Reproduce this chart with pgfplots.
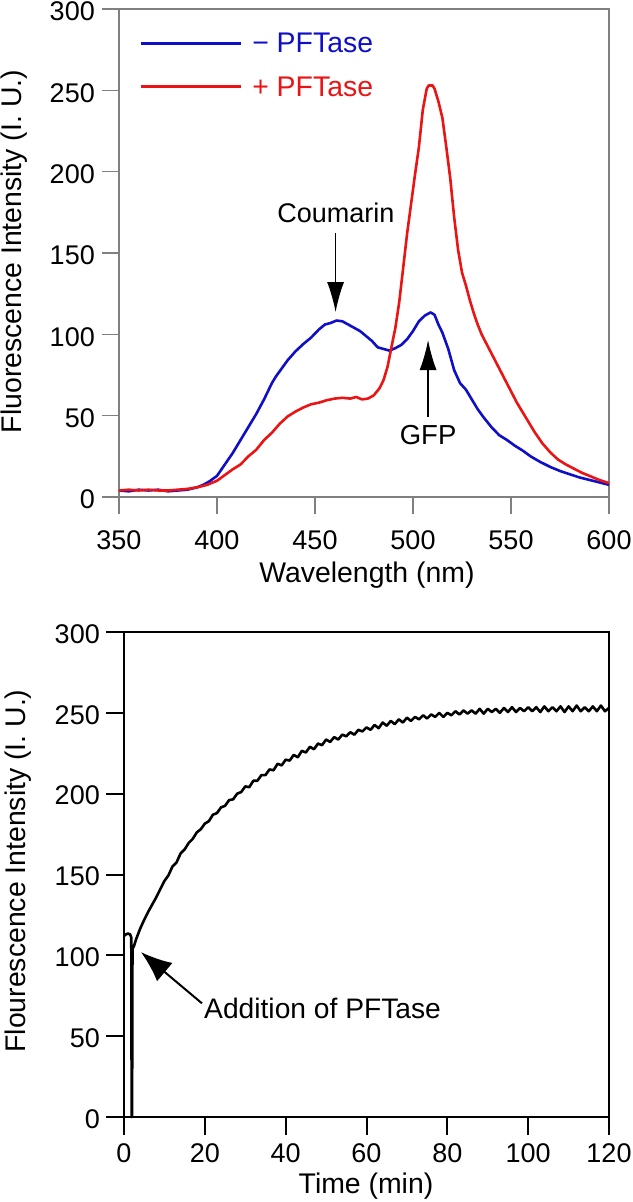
\documentclass[border=0pt]{standalone}
\usepackage{fontspec}
\setmainfont{Liberation Sans}
\usepackage{pgfplots}
\usepackage{pgfplotstable}
\pgfplotsset{compat=1.18}
\usetikzlibrary{arrows.meta}
\definecolor{cblue}{RGB}{15,15,200}
\definecolor{cred}{RGB}{235,20,20}
\definecolor{axgray}{RGB}{128,128,128}

\pgfplotstableread{
x y
350 4
355 3.5
360 4.5
365 4
370 4.5
375 3.5
380 4
385 4.5
390 6
393 7.5
396 9.5
400 13
404 20
408 27
412 35
416 43
420 51
424 60
428 70
430 74
433 79
436 84
440 89.5
444 94
448 98
452 103
455 106
458 107
461 108.5
464 108
467 106
470 104
473 102
476 99
479 96
482 92
485 91
488 90
491 91.5
494 93.5
497 97
500 102
503 108
506 111.5
509 113.5
511 112
513 106
515 101
518 91
521 78
524 70
527 66
530 60
533 54
536 49
540 43
544 38
548 35
552 31.5
556 28.5
560 25
565 21.5
570 18.5
575 16
580 14
585 12
590 10.5
595 9
600 7.5
}\tabNoEnzyme

\pgfplotstableread{
x y
350 4
355 4.5
360 4
365 4.5
370 4
375 4
380 4.5
385 5
390 6
395 7.5
400 10
404 13.5
408 17
412 20
416 25
420 29
424 35
428 39.5
432 45
436 49.5
440 52.5
444 55
448 57
452 58
456 59.5
460 60.5
464 61
468 60.5
471 61.5
474 60
477 60.5
480 62.5
483 67
485 72
487 80
489 92
491 104
493 120
495 141
497 162
499 180
501 198
503 215
505 238
507 251
508 253
510 253
511 251
513 243
515 233
517 215
519 196
521 172
523 152
525 138
527 130
529 121
531 113
533 106
535 100
538 93
541 86
544 79
547 72
550 65
553 58
556 52
559 46
562 40
566 33
570 27.5
574 23
578 20
582 17.5
586 15
590 13
595 10.5
600 8.5
}\tabWithEnzyme

\pgfplotstableread{
t y
0 112
0.5 113
1.0 113.5
1.5 113
1.8 111
1.9 0
2.0 0
2.1 104
2.5 106
3 110
4 116.5
5 122
6 127
7 131.5
8 136
9 141
10 146
11 149.5
12 155
13 157.5
14 163
15 165.5
16 169.5
17 172
18 176
19 178
20 181.5
21 183
22 187
23 188
24 191.5
25 192.5
26 196
27 196.5
28 200
29 201
30 204.5
31 204
32 208
33 208
34 211.5
35 211.5
36 215
37 214.5
38 218.5
39 217.5
40 221
41 220.5
42 224
43 222.5
44 226.5
45 225.5
46 229
47 227.5
48 231
49 230
50 233.5
51 232
52 235
53 233.5
54 236.5
55 235.5
56 238
57 236.5
58 239.5
59 238.5
60 241
61 239.5
62 242.5
63 240.5
64 244
65 242
66 245
67 243
68 246
69 244
70 247
71 245
72 247.5
73 246
74 248.5
75 246.5
76 249
77 247.5
78 250
79 247.5
80 250
81 248.5
82 251
83 249
84 251.5
85 249.5
86 251.5
87 249.5
88 252.5
89 249.5
90 252.5
91 250.5
92 252.5
93 250
94 253
95 250.5
96 253.5
97 250.5
98 253
99 251
100 253.5
101 251
102 253.5
103 250.5
104 254
105 251
106 253.5
107 251
108 254
109 250.5
110 254
111 251
112 254.5
113 251
114 253.5
115 251
116 254
117 251
118 254.5
119 251
120 253
}\tabKinetics

\begin{document}
\begin{tikzpicture}[x=1pt,y=1pt]
\useasboundingbox (0,0) rectangle (632,-1202);
% ---------- top: spectra ----------
\begin{axis}[
  at={(119pt,-497pt)}, anchor=south west,
  scale only axis, width=490pt, height=488pt,
  xmin=350, xmax=600, ymin=0, ymax=300,
  xtick={350,400,...,600}, ytick={0,50,...,300},
  tick align=outside, tick pos=left, major tick length=17pt,
  axis line style={axgray, line width=1.3pt},
  every tick/.style={axgray, line width=1.3pt},
  /pgf/number format/assume math mode=true,
  tick label style={font=\fontsize{27}{32}\selectfont, text=black},
  xticklabel style={anchor=north, inner sep=0pt},
  yticklabel style={anchor=east, inner sep=0pt, yshift=-2.5pt},
  xticklabel shift=16pt, yticklabel shift=7pt,
  xlabel={Wavelength (nm)},
  ylabel={Fluorescence Intensity (I. U.)},
  label style={font=\fontsize{28.4}{34}\selectfont},
  xlabel style={at={(axis description cs:0.506,-0.1762)}, anchor=base, inner sep=0pt},
  ylabel style={at={(axis description cs:-0.2,0.503)}, anchor=base, inner sep=0pt},
  clip=false,
]
\addplot[cblue, line width=2.6pt, line join=round] table[x=x,y=y] {\tabNoEnzyme};
\addplot[cred, line width=2.6pt, line join=round] table[x=x,y=y] {\tabWithEnzyme};
% outward ticks
\draw[axgray, line width=1.3pt]
  (axis cs:350,0) -- ++(0pt,-17pt) (axis cs:400,0) -- ++(0pt,-17pt)
  (axis cs:450,0) -- ++(0pt,-17pt) (axis cs:500,0) -- ++(0pt,-17pt)
  (axis cs:550,0) -- ++(0pt,-17pt) (axis cs:600,0) -- ++(0pt,-17pt)
  (axis cs:350,0) -- ++(-17pt,0pt) (axis cs:350,50) -- ++(-17pt,0pt)
  (axis cs:350,100) -- ++(-17pt,0pt) (axis cs:350,150) -- ++(-17pt,0pt)
  (axis cs:350,200) -- ++(-17pt,0pt) (axis cs:350,250) -- ++(-17pt,0pt)
  (axis cs:350,300) -- ++(-17pt,0pt);
% legend
\draw[cblue, line width=2.6pt] (axis cs:361.2,278.9) -- (axis cs:412.2,278.9);
\node[anchor=west, text=cblue, inner sep=0pt, font=\fontsize{28.4}{34}\selectfont] at (axis cs:417.9,278.9) {− PFTase};
\draw[cred, line width=2.6pt] (axis cs:361.2,252.2) -- (axis cs:412.2,252.2);
\node[anchor=west, text=cred, inner sep=0pt, font=\fontsize{28.4}{34}\selectfont] at (axis cs:417.9,252.2) {+ PFTase};
% annotations
\draw[black, line width=1.3pt, -{Latex[length=30pt,width=17pt]}] (axis cs:460.5,162.3) -- (axis cs:460.5,113.7);
\node[anchor=base, inner sep=0pt, font=\fontsize{27}{32}\selectfont] at (axis cs:460.7,169) {Coumarin};
\draw[black, line width=1.3pt, -{Latex[length=30pt,width=17pt]}] (axis cs:507.7,49.4) -- (axis cs:507.7,96.5);
\node[anchor=base, inner sep=0pt, font=\fontsize{27.5}{32}\selectfont] at (axis cs:507.7,32) {GFP};
\end{axis}
% ---------- bottom: kinetics ----------
\begin{axis}[
  at={(124pt,-1117pt)}, anchor=south west,
  scale only axis, width=485pt, height=485pt,
  xmin=0, xmax=120, ymin=0, ymax=300,
  xtick={0,20,...,120}, ytick={0,50,...,300},
  tick align=outside, tick pos=left, major tick length=18pt,
  axis line style={black, line width=2pt},
  every tick/.style={black, line width=2pt},
  /pgf/number format/assume math mode=true,
  tick label style={font=\fontsize{27}{32}\selectfont, text=black},
  xticklabel style={anchor=north, inner sep=0pt},
  yticklabel style={anchor=east, inner sep=0pt, yshift=-2pt},
  xticklabel shift=8pt, yticklabel shift=6pt,
  xlabel={Time (min)},
  ylabel={Flourescence Intensity (I. U.)},
  label style={font=\fontsize{28.4}{34}\selectfont},
  xlabel style={at={(axis description cs:0.499,-0.1567)}, anchor=base, inner sep=0pt},
  ylabel style={at={(axis description cs:-0.204,0.507)}, anchor=base, inner sep=0pt},
  clip=false,
]
\addplot[black, line width=2.6pt, line join=round] table[x=t,y=y] {\tabKinetics};
% outward ticks
\draw[black, line width=2pt]
  (axis cs:0,0) -- ++(0pt,-18pt) (axis cs:20,0) -- ++(0pt,-18pt)
  (axis cs:40,0) -- ++(0pt,-18pt) (axis cs:60,0) -- ++(0pt,-18pt)
  (axis cs:80,0) -- ++(0pt,-18pt) (axis cs:100,0) -- ++(0pt,-18pt)
  (axis cs:120,0) -- ++(0pt,-18pt)
  (axis cs:0,0) -- ++(-18pt,0pt) (axis cs:0,50) -- ++(-18pt,0pt)
  (axis cs:0,100) -- ++(-18pt,0pt) (axis cs:0,150) -- ++(-18pt,0pt)
  (axis cs:0,200) -- ++(-18pt,0pt) (axis cs:0,250) -- ++(-18pt,0pt)
  (axis cs:0,300) -- ++(-18pt,0pt);
\draw[black, line width=2pt, -{Latex[length=31pt,width=24pt]}] (axis cs:19.3,70.3) -- (axis cs:4.2,102);
\node[anchor=base west, inner sep=0pt, font=\fontsize{28.2}{34}\selectfont] at (axis cs:19.8,61.2) {Addition of PFTase};
\end{axis}
\end{tikzpicture}
\end{document}
